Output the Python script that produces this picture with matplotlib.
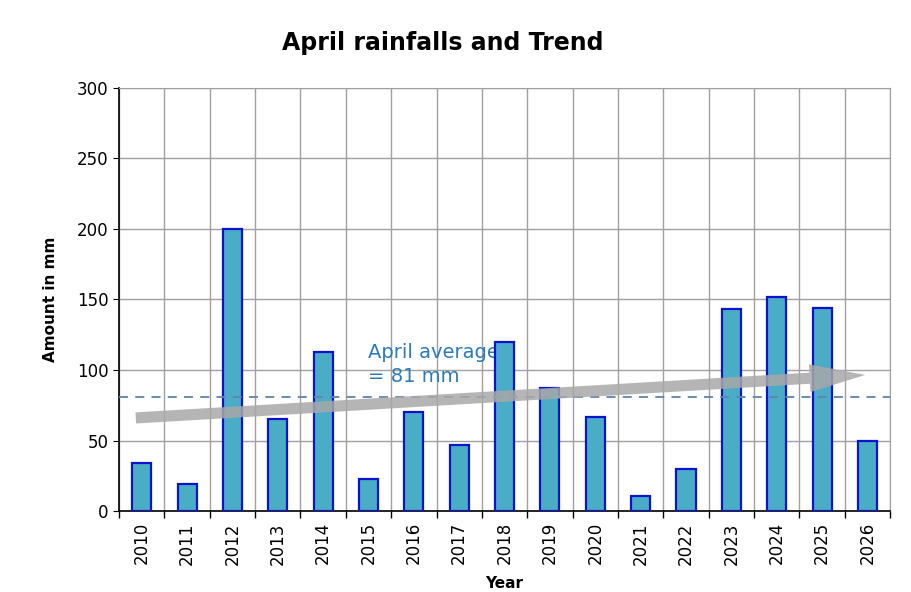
import matplotlib.pyplot as plt
import numpy as np

years = ['2010', '2011', '2012', '2013', '2014', '2015', '2016', '2017', '2018',
         '2019', '2020', '2021', '2022', '2023', '2024', '2025', '2026']
rain_mm = [34, 19, 200, 65, 113, 23, 70, 47, 120, 87, 67, 11, 30, 143, 152, 144, 50]
april_avg = 81
trend_start = (-0.13, 66)
trend_end = (15.95, 96.5)

fig = plt.figure(figsize=(9.12, 5.92), dpi=100)
ax = fig.add_axes([0.1305, 0.1368, 0.8455, 0.7146])

X = np.arange(len(years))
ax.bar(X, rain_mm, width=0.42, color='#4BACC6', edgecolor='#0A14D0', linewidth=1.6, zorder=3)

ax.set_xlim(-0.5, len(years) - 0.5)
ax.set_ylim(0, 300)
ax.set_yticks(range(0, 301, 50))

# grid: horizontal at major y ticks, vertical at category boundaries
ax.set_xticks(X)
ax.set_xticklabels(years, rotation=90, fontsize=12)
ax.set_xticks(np.arange(-0.5, len(years)), minor=True)
ax.tick_params(axis='x', which='major', length=0, pad=8)
ax.tick_params(axis='x', which='minor', length=5, width=1, color='black')
ax.tick_params(axis='y', labelsize=12, length=4, color='black')
ax.grid(axis='y', color='#A0A0A0', linewidth=1, zorder=0)
ax.grid(axis='x', which='minor', color='#A0A0A0', linewidth=1, zorder=0)

for side in ['top', 'right']:
    ax.spines[side].set_color('#A0A0A0')
for side in ['left', 'bottom']:
    ax.spines[side].set_color('black')
    ax.spines[side].set_linewidth(1.2)

ax.axhline(april_avg, color='#5F84AE', linestyle=(0, (5, 4)), linewidth=1.3, zorder=4)
ax.text(5.0, 104, 'April average\n= 81 mm', color='#2A7AB8', fontsize=14,
        ha='left', va='center', linespacing=1.35, zorder=2)

ax.annotate('', xy=trend_end, xytext=trend_start,
            arrowprops=dict(arrowstyle='simple,head_length=2.0,head_width=1.0,tail_width=0.4',
                            mutation_scale=20, color='#A8A8A8', alpha=0.85,
                            shrinkA=0, shrinkB=0, linewidth=0),
            zorder=6)

fig.text(0.486, 0.927, 'April rainfalls and Trend', fontsize=17, fontweight='bold',
         ha='center', va='center')
ax.set_ylabel('Amount in mm', fontsize=11, fontweight='bold', labelpad=14)
ax.set_xlabel('Year', fontsize=11, fontweight='bold', labelpad=8)

plt.savefig('out.png', dpi=100)
